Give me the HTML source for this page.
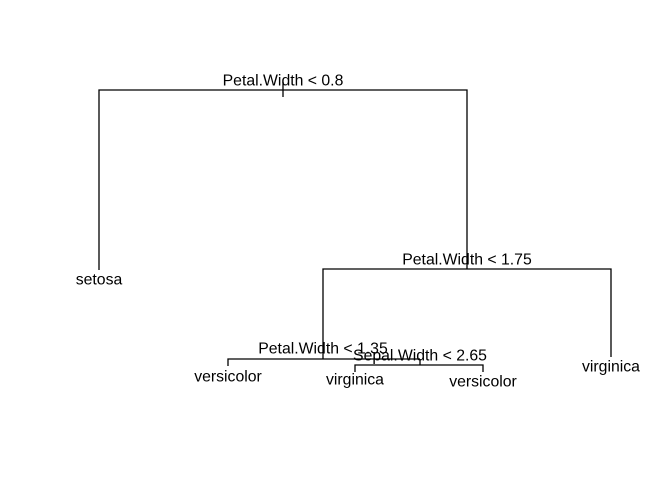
<!DOCTYPE html>
<html><head><style>body{margin:0;background:#fff}svg{display:block}text{font-family:"Liberation Sans",sans-serif;font-size:15.8px;fill:#000;text-anchor:middle;dominant-baseline:central}</style></head>
<body>
<svg width="672" height="480" viewBox="0 0 672 480">
<g stroke="#000" stroke-width="1.3" fill="none">
<polyline points="99,270 99,90 467,90 467,269"/>
<line x1="283" y1="82" x2="283" y2="97"/>
<polyline points="323,359 323,269 611,269 611,357"/>
<polyline points="228,366 228,359 420,359"/>
<line x1="420" y1="359" x2="420" y2="365"/>
<polyline points="355,372 355,365 483,365 483,372"/>
</g>
<text x="283" y="81">Petal.Width &lt; 0.8</text>
<text x="99" y="280">setosa</text>
<text x="467" y="260">Petal.Width &lt; 1.75</text>
<text x="323" y="349">Petal.Width &lt; 1.35</text>
<text x="420" y="356">Sepal.Width &lt; 2.65</text>
<text x="228" y="377">versicolor</text>
<text x="355" y="380">virginica</text>
<text x="483" y="382">versicolor</text>
<text x="611" y="367">virginica</text>
</svg>
</body></html>
